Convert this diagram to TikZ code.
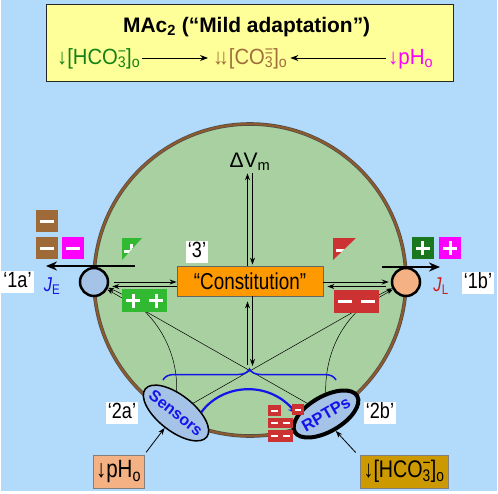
\documentclass[tikz,border=0pt]{standalone}
\usepackage{fontspec}
\usepackage{graphicx}
\setmainfont{Liberation Sans}
\usetikzlibrary{arrows.meta,shapes.geometric,calc,decorations.pathreplacing}
\pgfdeclarelayer{back}\pgfdeclarelayer{mid}
\pgfsetlayers{back,mid,main}
\definecolor{bgblue}{RGB}{178,218,250}
\definecolor{boxyellow}{RGB}{255,255,153}
\definecolor{cellgreen}{RGB}{168,208,160}
\definecolor{membrane}{RGB}{140,90,45}
\definecolor{txgreen}{RGB}{20,130,20}
\definecolor{txbrown}{RGB}{160,110,60}
\definecolor{mag}{RGB}{255,0,255}
\definecolor{orangebox}{RGB}{255,153,0}
\definecolor{transblue}{RGB}{165,195,230}
\definecolor{peach}{RGB}{244,177,131}
\definecolor{goldbox}{RGB}{204,153,0}
\definecolor{signbrown}{RGB}{158,106,56}
\definecolor{signgreen}{RGB}{50,185,50}
\definecolor{darkgreen}{RGB}{25,120,30}
\definecolor{signred}{RGB}{205,50,50}
\definecolor{txblue}{RGB}{20,20,235}
\definecolor{txred}{RGB}{205,30,30}
\newcommand\fs[1]{\fontsize{#1}{#1}\selectfont}
\newcommand\nar[1]{\scalebox{0.82}[1]{#1}}
\newcommand\wid[2]{\resizebox{#1}{\height}{#2}}
\newcommand\supsub[2]{\rlap{\textsuperscript{#1}}\textsubscript{#2}}
\tikzset{
  arr/.style={-{Stealth[length=7pt,width=5pt]}, line width=1pt},
  rowarr/.style={-{Stealth[length=8pt,width=6pt]}, line width=0.9pt},
  thinarr/.style={-{Stealth[length=6pt,width=4pt]}, line width=0.5pt},
  bigarr/.style={-{Stealth[length=11pt,width=9pt]}, line width=2.5pt},
  lbl/.style={fill=white, inner sep=2pt, text height=15pt, text depth=3pt, font=\fs{22}},
  trans/.style={circle, draw, line width=2.5pt, minimum size=28pt, inner sep=0},
  signbar/.style={white, line width=3pt},
  pics/minusbox/.style={code={\fill[#1] (-11,-11) rectangle (11,11);
     \draw[signbar] (-7,0) -- (7,0);}},
  pics/plusbox/.style={code={\fill[#1] (-11,-11) rectangle (11,11);
     \draw[signbar] (-7,0) -- (7,0) (0,-7) -- (0,7);}},
}
\begin{document}
\begin{tikzpicture}[x=1pt,y=-1pt]
\useasboundingbox (0,0) rectangle (498,493);
\begin{pgfonlayer}{back}
  \fill[white] (0,0) rectangle (498,493);
  \fill[bgblue] (1,0) rectangle (497,491);
  \node[rectangle, draw=black!85, line width=1.8pt, fill=boxyellow,
        minimum width=407pt, minimum height=77pt, inner sep=0] (mac) at (250,43) {};
  \node[circle, draw=black!70, double=membrane, double distance=2.2pt, line width=0.7pt,
        fill=cellgreen, minimum size=312pt, inner sep=0] (cell) at (250,280) {};
\end{pgfonlayer}

% top box texts
\node[anchor=base west, font=\bfseries\fs{21}, inner sep=0] (title) at (123,32)
  {\wid{247pt}{MAc\textsubscript{2} (“Mild adaptation”)}};
\coordinate (rowc) at (250,58);
\node[anchor=base west, text=txgreen, font=\fs{22}, inner sep=0] (hco) at (57,64)
  {\wid{83pt}{↓[HCO\supsub{−}{3}]\textsubscript{o}}};
\node[anchor=base west, text=txbrown, font=\fs{22}, inner sep=0] (co3) at (213,64)
  {\wid{74pt}{↓\kern-0.22em↓[CO\supsub{=}{3}]\textsubscript{o}}};
\node[anchor=base west, text=mag, font=\fs{22}, inner sep=0] (ph) at (388,64)
  {\wid{45pt}{↓pH\textsubscript{o}}};
\draw[rowarr, shorten <=2pt, shorten >=5pt] (hco.east |- rowc) -- (co3.west |- rowc);
\draw[rowarr, shorten <=2pt, shorten >=3pt] (ph.west |- rowc) -- (co3.east |- rowc);

% central nodes
\node[anchor=base, font=\fs{21}, inner sep=2pt] (dvm) at (250,167) {ΔV\textsubscript{m}};
\node[draw=black!60, line width=0.8pt, fill=orangebox, minimum width=146pt, minimum height=30pt,
      inner sep=0, font=\fs{23}] (cons) at (250,281) {\nar{“Constitution”}};
\node[lbl] (l3) at (197,251.5) {\nar{‘3’}};
\node[lbl] (l1a) at (17.5,281.5) {\nar{‘1a’}};
\node[lbl] (l1b) at (478,282.5) {\nar{‘1b’}};
\node[lbl] (l2a) at (122,412.5) {\nar{‘2a’}};
\node[lbl] (l2b) at (380,412.5) {\nar{‘2b’}};

\node[trans, fill=transblue] (je) at (94,282) {};
\node[trans, fill=peach] (jl) at (406,282) {};
\node[text=txblue, font=\fs{20}, inner sep=0] (jetxt) at (52,286) {\nar{\textit{J}\textsubscript{E}}};
\node[text=txred, font=\fs{20}, inner sep=0] (jltxt) at (441,286) {\nar{\textit{J}\textsubscript{L}}};

\node[ellipse, draw, line width=1.5pt, fill=transblue, minimum width=78pt, minimum height=36pt,
      inner sep=0, rotate=-38, font=\bfseries\fs{16}, text=txblue] (sens) at (176,413)
      {\makebox[0pt]{Sensors}};
\node[ellipse, draw, line width=4pt, fill=transblue, minimum width=72pt, minimum height=35pt,
      inner sep=0, rotate=30, font=\bfseries\fs{16.5}, text=txblue] (rptp) at (326,414)
      {\makebox[0pt]{RPTPs}};

\node[draw=black!50, line width=0.6pt, fill=peach, minimum width=51pt, minimum height=33pt,
      inner sep=0, font=\fs{25}] (phbox) at (118.5,471.5) {\nar{↓pH\textsubscript{o}}};
\node[draw=black!50, line width=0.6pt, fill=goldbox, minimum width=88pt, minimum height=33pt,
      inner sep=0, font=\fs{24}] (hcobox) at (404,471.5) {\nar{↓[HCO\supsub{−}{3}]\textsubscript{o}}};

% thin regulatory lines (behind nodes)
\begin{pgfonlayer}{mid}
  \draw[thinarr] (rptp) -- (je);
  \draw[thinarr] (sens) -- (jl);
  \draw[thinarr] (sens) .. controls (178,345) and (150,305) .. (je);
  \draw[thinarr] (rptp) .. controls (325,350) and (345,310) .. (jl);
\end{pgfonlayer}

% vertical double arrows
\draw[arr] ($(cons.north)+(-2.5,0)$) -- ($(dvm.south)+(-2.5,1)$);
\draw[arr] ($(dvm.south)+(2.5,1)$) -- ($(cons.north)+(2.5,-1)$);
\coordinate (btip) at (250,367);
\draw[arr] ($(btip)+(-2.5,-2)$) -- ($(cons.south)+(-2.5,5)$);
\draw[arr] ($(cons.south)+(2.5,0)$) -- ($(btip)+(2.5,-1)$);

% brace
\coordinate (brL) at (163,380);
\coordinate (brR) at (336,380);
\draw[txblue, line width=1.5pt, decorate, decoration={brace, amplitude=11pt}] (brL) -- (brR);

% horizontal arrows between transporters and constitution
\draw[arr] ($(je.east)+(5,0)$) -- (cons.west |- je.east);
\draw[arr] ($(cons.west)+(0,5.5)$) -- ($(je.east)+(3,4.5)$);
\draw[arr] ($(cons.east)+(0,1)$) -- ($(jl.west)+(-2,0)$);
\draw[arr] ($(jl.west)+(-5,4.5)$) -- ($(cons.east)+(4,5.5)$);

% flux arrows above transporters
\coordinate (jeA) at (135,266);
\coordinate (jeB) at (46,266);
\coordinate (jlA) at (382,267);
\coordinate (jlB) at (440,267);
\draw[bigarr] (jeA) -- (jeB);
\draw[bigarr] (jlA) -- (jlB);

% sign boxes
\pic at (47,221) {minusbox=signbrown};
\pic at (47,248) {minusbox=signbrown};
\pic at (72.5,248) {minusbox=mag};
\pic at (422.5,248) {plusbox=darkgreen};
\pic at (450,248) {plusbox=mag};
\fill[signgreen] (122,289) rectangle (167,312);
\draw[signbar] (126,300.5) -- (140,300.5) (133,293.5) -- (133,307.5)
               (149,300.5) -- (163,300.5) (156,293.5) -- (156,307.5);
\fill[signred] (334,290) rectangle (379,313);
\draw[signbar] (338,301.5) -- (352,301.5) (361,301.5) -- (375,301.5);
\begin{scope}
  \clip (122,238) -- (142,238) -- (122,260) -- cycle;
  \fill[signgreen] (122,238) rectangle (142,260);
  \draw[signbar] (124,251) -- (138,251) (131,244) -- (131,258);
\end{scope}
\begin{scope}
  \clip (333,238) -- (356,238) -- (333,260) -- cycle;
  \fill[signred] (333,238) rectangle (356,260);
  \draw[signbar] (336,250) -- (349,250);
\end{scope}

% blue arrow sensors -> RPTPs
\draw[txblue, line width=2.2pt, -{Stealth[length=9pt,width=8pt]}]
  (sens.40) .. controls (222,384) and (268,380) .. (rptp.150);

% red boxes near RPTPs
\fill[signred] (268,405) rectangle (281,416);
\draw[white, line width=2pt] (271,410.5) -- (278,410.5);
\fill[signred] (292,404) rectangle (304,415);
\draw[white, line width=2pt] (295,409.5) -- (301,409.5);
\fill[signred] (268,418) rectangle (293,428);
\draw[white, line width=2pt] (271,423) -- (278,423) (283,423) -- (290,423);
\fill[signred] (268,430) rectangle (293,442);
\draw[white, line width=2pt] (271,436) -- (278,436) (283,436) -- (290,436);

% external stimuli
\draw[arr, line width=0.8pt, shorten <=3pt] (phbox.north east) -- (sens);
\draw[arr, line width=0.8pt, shorten <=3pt] ($(hcobox.north west)+(-2,0)$) -- (rptp.south);
\end{tikzpicture}
\end{document}
